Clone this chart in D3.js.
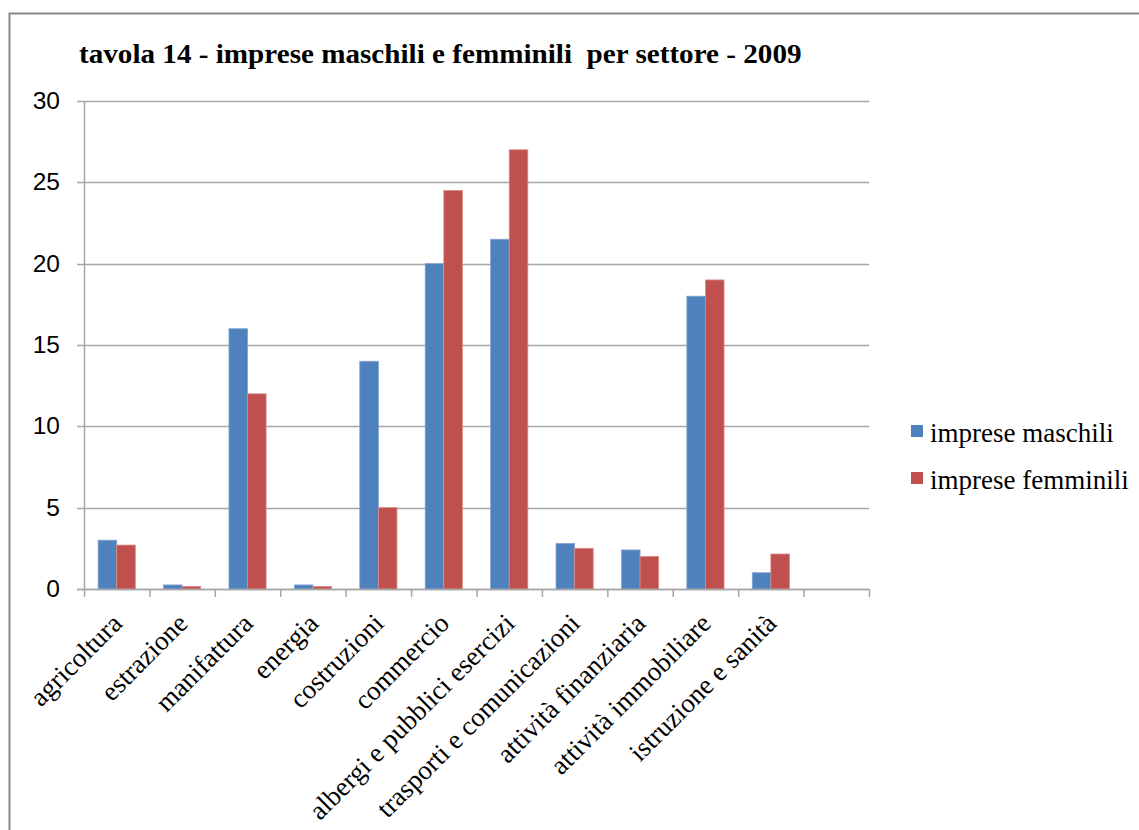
<!DOCTYPE html>
<html>
<head>
<meta charset="utf-8">
<script src="https://cdn.jsdelivr.net/npm/d3@7"></script>
<style>
  body { margin: 0; background: #fff; }
  svg { display: block; }
</style>
</head>
<body>
<svg id="chart" width="1139" height="830"></svg>
<script>
// data
const categories = ["agricoltura", "estrazione", "manifattura", "energia", "costruzioni", "commercio",
  "albergi e pubblici esercizi", "trasporti e comunicazioni", "attività finanziaria",
  "attività immobiliare", "istruzione e sanità", ""];
const maschili = [3.0, 0.25, 16, 0.25, 14, 20, 21.5, 2.8, 2.4, 18, 1.0, null];
const femminili = [2.7, 0.15, 12, 0.15, 5, 24.5, 27, 2.5, 2.0, 19, 2.15, null];
const seriesNames = ["imprese maschili", "imprese femminili"];
const colors = ["#4F81BD", "#C0504D"];
const yTicks = [0, 5, 10, 15, 20, 25, 30];

const serif = "'Liberation Serif', 'Times New Roman', serif";
const svg = d3.select("#chart");

// outer frame
svg.append("path")
  .attr("d", "M 9.5 840 L 9.5 13.5 L 1150 13.5")
  .attr("fill", "none")
  .attr("stroke", "#888")
  .attr("stroke-width", 2);

// title (stretched a bit to match the original width)
const title = svg.append("text")
  .attr("x", 0).attr("y", 0)
  .attr("font-family", serif)
  .attr("font-weight", "bold")
  .attr("font-size", 27)
  .attr("fill", "#000")
  .attr("xml:space", "preserve")
  .text("tavola 14 - imprese maschili e femminili  per settore - 2009");
const tw = title.node().getComputedTextLength();
title.attr("transform", `translate(79,63) scale(${723 / tw},1)`);

const m = {left: 84, top: 101, right: 869, bottom: 589};

const x = d3.scaleBand()
  .domain(d3.range(categories.length))
  .range([m.left, m.right]);

const xs = d3.scaleBand()
  .domain([0, 1])
  .range([0, x.bandwidth()])
  .paddingOuter(0.76)
  .paddingInner(0);

const y = d3.scaleLinear()
  .domain([0, 30])
  .range([m.bottom, m.top]);

// grid
svg.append("g").selectAll("line")
  .data(yTicks)
  .enter().append("line")
  .attr("x1", m.left - 7).attr("x2", m.right)
  .attr("y1", d => Math.round(y(d)) + 0.5)
  .attr("y2", d => Math.round(y(d)) + 0.5)
  .attr("stroke", "#A6A6A6")
  .attr("stroke-width", 1.5);

// y labels
svg.append("g").selectAll("text")
  .data(yTicks)
  .enter().append("text")
  .attr("x", 60)
  .attr("y", d => y(d) + 8)
  .attr("text-anchor", "end")
  .attr("font-family", "'Liberation Sans', Arial, sans-serif")
  .attr("font-size", 24.5)
  .attr("fill", "#000")
  .text(d => d);

// bars
const rows = categories.map((c, i) => ({i: i, vals: [maschili[i], femminili[i]]}));
const groups = svg.append("g").selectAll("g")
  .data(rows)
  .enter().append("g")
  .attr("transform", d => `translate(${x(d.i)},0)`);

groups.selectAll("rect")
  .data(d => d.vals.map((v, k) => ({k: k, v: v})).filter(e => e.v != null))
  .enter().append("rect")
  .attr("x", e => xs(e.k))
  .attr("width", xs.bandwidth())
  .attr("y", e => y(e.v))
  .attr("height", e => y(0) - y(e.v))
  .attr("fill", e => colors[e.k])
  .attr("stroke", e => e.k == 0 ? "#7FA3D3" : "#D98C89")
  .attr("stroke-width", 0.8);

// y axis line
svg.append("line")
  .attr("x1", m.left + 0.5).attr("x2", m.left + 0.5)
  .attr("y1", m.top).attr("y2", m.bottom)
  .attr("stroke", "#A6A6A6")
  .attr("stroke-width", 1.5);

// x axis line + ticks
svg.append("line")
  .attr("x1", m.left - 7).attr("x2", m.right)
  .attr("y1", m.bottom + 0.5).attr("y2", m.bottom + 0.5)
  .attr("stroke", "#A6A6A6")
  .attr("stroke-width", 1.5);

svg.append("g").selectAll("line")
  .data(d3.range(categories.length + 1))
  .enter().append("line")
  .attr("x1", i => m.left + i * x.step() + 0.5)
  .attr("x2", i => m.left + i * x.step() + 0.5)
  .attr("y1", m.bottom)
  .attr("y2", m.bottom + 8)
  .attr("stroke", "#A6A6A6")
  .attr("stroke-width", 1.5);

// x labels
svg.append("g").selectAll("text")
  .data(categories)
  .enter().append("text")
  .attr("transform", (c, i) => `translate(${x(i) + x.bandwidth() / 2 + 7},${m.bottom + 36}) rotate(-45)`)
  .attr("text-anchor", "end")
  .attr("font-family", serif)
  .attr("font-size", 27)
  .attr("fill", "#000")
  .text(c => c);

// legend
const legend = svg.append("g").selectAll("g")
  .data(seriesNames)
  .enter().append("g")
  .attr("transform", (s, i) => `translate(911,${425 + i * 47})`);

legend.append("rect")
  .attr("width", 12).attr("height", 12)
  .attr("fill", (s, i) => colors[i]);

legend.append("text")
  .attr("x", 19).attr("y", 17)
  .attr("font-family", serif)
  .attr("font-size", 27)
  .attr("fill", "#000")
  .text(s => s);
</script>
</body>
</html>
